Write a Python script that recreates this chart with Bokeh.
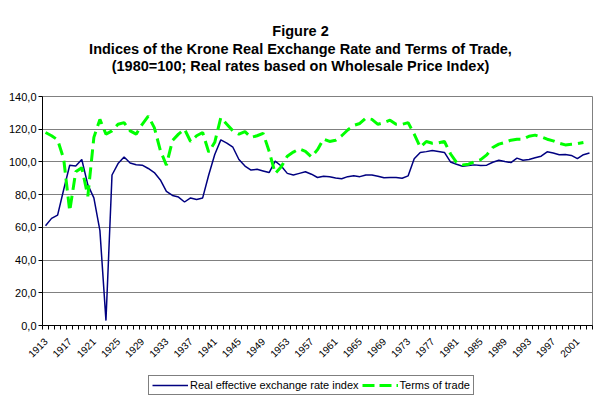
import math
from bokeh.plotting import figure
from bokeh.layouts import column
from bokeh.models import (Range1d, FixedTicker, Legend, LegendItem,
                          ColumnDataSource, CustomJSTickFormatter)
from bokeh.core.properties import value
from bokeh.embed import file_html
from bokeh.resources import INLINE

years = list(range(1913, 2004))

reer = [61, 65.5, 67.5, 83, 98, 97.5, 101.5, 86, 78, 58,
        3, 92, 99, 103, 99.3, 98.3, 98, 96, 93.5, 89,
        82, 79.5, 78.5, 75.5, 78, 77, 78, 92, 104.5, 113.5,
        111.5, 109, 101.5, 97.5, 95, 95.5, 94.5, 93.5, 100.5, 97.5,
        93, 92, 93, 94, 92.5, 90.5, 91.3, 91, 90.2, 89.7,
        91, 91.5, 91, 92, 92, 91.2, 90.3, 90.5, 90.5, 90,
        91.5, 102, 105.8, 106.3, 107, 106.4, 105.8, 100, 98.6, 97.4,
        97.8, 98.2, 97.8, 98, 99.8, 101, 100.2, 99.6, 102.3, 101,
        101.5, 102.6, 103.5, 106.2, 105.4, 104.4, 104.6, 104, 102, 104.4,
        105.4]

tot = [118, 116, 113.5, 102, 70, 94, 96.5, 79, 115, 126,
       117, 119, 123, 124, 119, 117, 123, 128, 121, 107,
       98, 113, 117, 120, 112.5, 116, 118, 106, 112, 127,
       123, 119, 117, 118.5, 115, 116, 117.5, 106.5, 93, 97,
       103.5, 106, 108, 106.5, 103, 107.5, 114, 112.5, 113.3, 116,
       119.5, 122.3, 123.5, 126.8, 126, 123, 124, 125.5, 123, 123,
       124, 117, 109, 112.5, 111.4, 111.7, 112.5, 105, 99.7, 98.2,
       98.6, 100.2, 101.4, 104.3, 108.8, 110.9, 111.9, 113.3, 113.9, 113.9,
       115.7, 116.4, 115.3, 113.9, 112.9, 111.4, 110.4, 110.8, 111.2, 111.9,
       float("nan")]

x_label_years = list(range(1913, 2002, 4))
y_ticks = [0, 20, 40, 60, 80, 100, 120, 140]

title_lines = ["Figure 2",
               "Indices of the Krone Real Exchange Rate and Terms of Trade,",
               "(1980=100; Real rates based on Wholesale Price Index)"]
series_names = ["Real effective exchange rate index", "Terms of trade"]

W = 600
LB, RB = 42, 8
BLUE = "#000080"
GREEN = "#00FF00"

# ---------- title strip (x data units = page pixels) ----------
tf = figure(width=W, height=88, output_backend="svg", toolbar_location=None,
            x_axis_type=None, y_axis_type=None,
            min_border_left=LB, min_border_right=RB, min_border_top=0,
            min_border_bottom=0,
            x_range=Range1d(LB, W - RB), y_range=Range1d(88, 0),
            outline_line_color=None, background_fill_color="white",
            border_fill_color="white")
tf.grid.visible = False
tf.text(x=[300, 300, 300], y=[30.5, 48, 65.5], text=title_lines,
        text_align="center", text_baseline="alphabetic",
        text_font=value("Liberation Sans"), text_font_style="bold",
        text_font_size="14.5px", text_color="black")

# ---------- main chart ----------
src = ColumnDataSource(data=dict(year=years, reer=reer, tot=tot))

p = figure(width=W, height=277, output_backend="svg", toolbar_location=None,
           x_range=Range1d(1912.5, 2003.5), y_range=Range1d(0, 140),
           min_border_left=LB, min_border_right=RB, min_border_top=8,
           min_border_bottom=40, background_fill_color="white",
           border_fill_color="white")

p.outline_line_color = "#808080"
p.xgrid.grid_line_color = None
p.ygrid.grid_line_color = "#808080"
p.ygrid.grid_line_width = 1

p.yaxis.ticker = FixedTicker(ticks=y_ticks)
p.yaxis.formatter = CustomJSTickFormatter(code="return tick.toFixed(1).replace('.', ',');")
p.yaxis.major_tick_out = 4
p.yaxis.major_tick_in = 0
p.yaxis.minor_tick_line_color = None
p.yaxis.major_label_standoff = 2
p.yaxis.axis_line_color = "black"
p.yaxis.major_tick_line_color = "black"
p.yaxis.major_label_text_font = "Liberation Sans"
p.yaxis.major_label_text_font_size = "11px"
p.yaxis.major_label_text_color = "black"

p.xaxis.ticker = FixedTicker(ticks=x_label_years,
                             minor_ticks=[y - 0.5 for y in years] + [years[-1] + 0.5])
p.xaxis.formatter = CustomJSTickFormatter(code="return tick.toFixed(0);")
p.xaxis.major_tick_line_color = None
p.xaxis.major_tick_out = 0
p.xaxis.major_tick_in = 0
p.xaxis.minor_tick_out = 4
p.xaxis.minor_tick_in = 0
p.xaxis.minor_tick_line_color = "black"
p.xaxis.axis_line_color = "black"
p.xaxis.major_label_orientation = math.pi / 4
p.xaxis.major_label_standoff = 10
p.xaxis.major_label_text_font = "Liberation Sans"
p.xaxis.major_label_text_font_size = "10px"
p.xaxis.major_label_text_color = "black"

p.line("year", "reer", source=src, line_color=BLUE, line_width=1.5)
p.line("year", "tot", source=src, line_color=GREEN, line_width=3, line_dash="12 6")

# ---------- legend strip ----------
lf = figure(width=W, height=32, output_backend="svg", toolbar_location=None,
            x_axis_type=None, y_axis_type=None,
            min_border_left=LB, min_border_right=RB, min_border_top=0,
            min_border_bottom=0,
            x_range=Range1d(0, 1), y_range=Range1d(0, 1),
            outline_line_color=None, background_fill_color="white",
            border_fill_color="white")
lf.grid.visible = False
# same series, kept outside this strip's ranges: only their legend samples show
l1 = lf.line(x=years, y=reer, line_color=BLUE, line_width=1.5)
l2 = lf.line(x=years, y=tot, line_color=GREEN, line_width=3, line_dash="12 5")
legend = Legend(items=[LegendItem(label=series_names[0], renderers=[l1]),
                       LegendItem(label=series_names[1], renderers=[l2])],
                location=(148 - LB, 2), orientation="horizontal",
                border_line_color="black", border_line_width=1,
                background_fill_color="white", background_fill_alpha=1,
                label_text_font="Liberation Sans", label_text_font_size="11px",
                label_text_color="black",
                glyph_width=36, glyph_height=12, label_height=12,
                label_standoff=2, spacing=3, padding=3, margin=0)
lf.add_layout(legend, "center")

layout = column(tf, p, lf, spacing=0)
open("out.html", "w").write(file_html(layout, INLINE))
